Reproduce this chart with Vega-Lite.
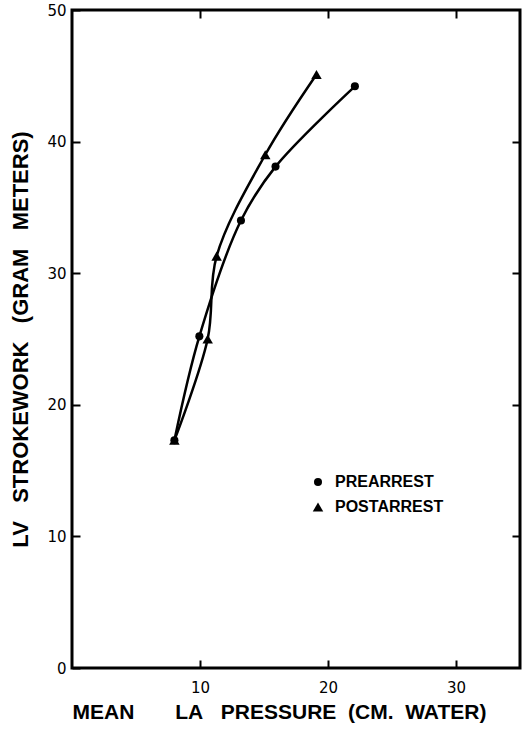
{
  "$schema": "https://vega.github.io/schema/vega-lite/v6.json",
  "autosize": "none",
  "width": 448,
  "height": 658,
  "padding": {"left": 72, "top": 10, "right": 5, "bottom": 61},
  "config": {
    "view": {"stroke": "black", "strokeWidth": 3},
    "font": "DejaVu Sans",
    "axis": {
      "domain": false,
      "grid": false,
      "tickColor": "black",
      "tickWidth": 2,
      "tickSize": -8,
      "labelColor": "black",
      "labelFont": "DejaVu Sans",
      "labelFontSize": 15,
      "titleColor": "black",
      "titleFont": "Liberation Sans",
      "titleFontWeight": "bold"
    }
  },
  "data": {
    "values": [
      {"series": "PREARREST", "pressure": 8.0, "work": 17.3},
      {"series": "PREARREST", "pressure": 9.95, "work": 25.2},
      {"series": "PREARREST", "pressure": 13.2, "work": 34.0},
      {"series": "PREARREST", "pressure": 15.9, "work": 38.1},
      {"series": "PREARREST", "pressure": 22.1, "work": 44.2},
      {"series": "POSTARREST", "pressure": 8.0, "work": 17.3},
      {"series": "POSTARREST", "pressure": 10.6, "work": 25.0},
      {"series": "POSTARREST", "pressure": 11.3, "work": 31.3},
      {"series": "POSTARREST", "pressure": 15.1, "work": 39.0},
      {"series": "POSTARREST", "pressure": 19.1, "work": 45.1}
    ]
  },
  "resolve": {"axis": {"x": "independent", "y": "independent"}},
  "layer": [
    {
      "mark": {"type": "line", "interpolate": "catmull-rom", "color": "black", "strokeWidth": 2.5},
      "encoding": {
        "x": {
          "field": "pressure", "type": "quantitative",
          "scale": {"domain": [0, 35], "nice": false},
          "axis": {"orient": "bottom", "values": [10, 20, 30], "title": "MEAN\u00a0\u00a0\u00a0\u00a0\u00a0\u00a0\u00a0LA\u00a0\u00a0\u00a0PRESSURE\u00a0\u00a0(CM.\u00a0\u00a0WATER)", "titleFontSize": 21, "titlePadding": 6, "titleX": 207, "labelPadding": 20}
        },
        "y": {
          "field": "work", "type": "quantitative",
          "scale": {"domain": [0, 50], "nice": false},
          "axis": {"orient": "left", "values": [0, 10, 20, 30, 40, 50], "title": "LV\u00a0\u00a0\u00a0STROKEWORK\u00a0\u00a0\u00a0(GRAM\u00a0\u00a0\u00a0METERS)", "titleFontSize": 22, "titlePadding": 14, "labelPadding": 14}
        },
        "detail": {"field": "series"}
      }
    },
    {
      "mark": {"type": "point", "filled": true, "color": "black", "opacity": 1},
      "encoding": {
        "x": {
          "field": "pressure", "type": "quantitative",
          "scale": {"domain": [0, 35], "nice": false},
          "axis": {"orient": "top", "values": [10, 20, 30], "labels": false, "title": null}
        },
        "y": {
          "field": "work", "type": "quantitative",
          "scale": {"domain": [0, 50], "nice": false},
          "axis": {"orient": "right", "values": [10, 20, 30, 40], "labels": false, "title": null}
        },
        "shape": {
          "field": "series", "type": "nominal",
          "scale": {"domain": ["PREARREST", "POSTARREST"], "range": ["circle", "triangle-up"]},
          "legend": {"orient": "none", "legendX": 238, "legendY": 464, "title": null, "labelFontSize": 16, "labelFont": "Liberation Sans", "labelFontWeight": "bold", "labelColor": "black", "symbolFillColor": "black", "symbolStrokeColor": "black", "rowPadding": 9, "labelOffset": 9}
        },
        "size": {
          "field": "series", "type": "nominal",
          "scale": {"domain": ["PREARREST", "POSTARREST"], "range": [65, 110]},
          "legend": {"orient": "none", "legendX": 238, "legendY": 464, "title": null, "labelFontSize": 16, "labelFont": "Liberation Sans", "labelFontWeight": "bold", "labelColor": "black", "symbolFillColor": "black", "symbolStrokeColor": "black", "rowPadding": 9, "labelOffset": 9}
        }
      }
    }
  ]
}
